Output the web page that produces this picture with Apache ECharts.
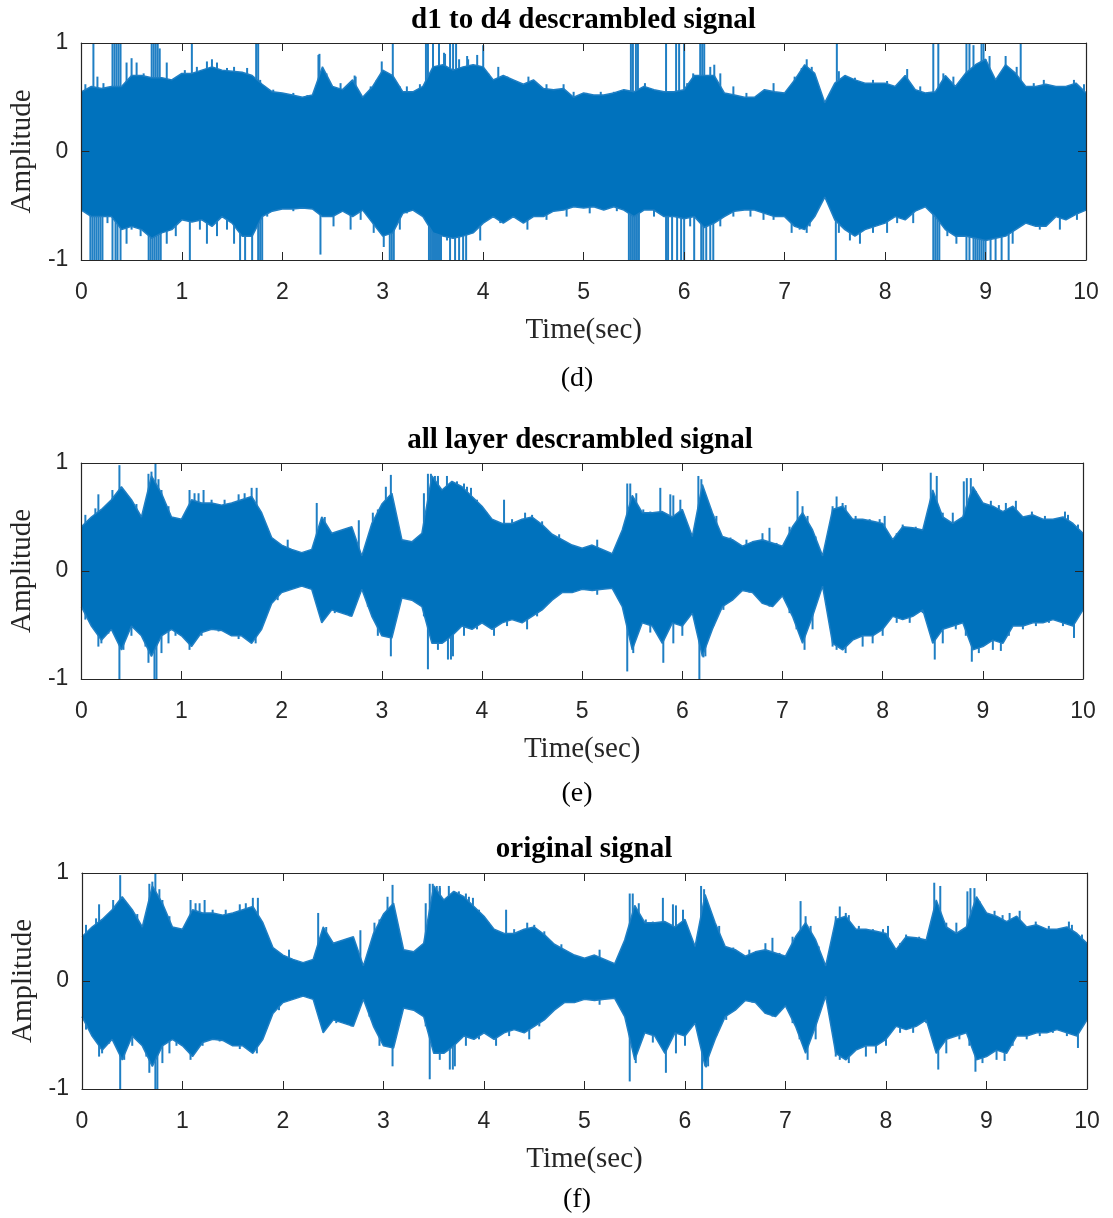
<!DOCTYPE html>
<html>
<head>
<meta charset="utf-8">
<script src="https://cdn.jsdelivr.net/npm/echarts@6/dist/echarts.min.js"></script>
<style>
html, body { margin: 0; padding: 0; background: #fff; }
#chart { width: 1113px; height: 1218px; }
</style>
</head>
<body>
<div id="chart"></div>
<script>
// envelope sample times, 0..10 s every 0.1 s
const time = [];
for (let i = 0; i <= 100; i++) time.push(+(i / 10).toFixed(1));

// (d) d1 to d4 descrambled signal
const dUpper = [0.55,0.60,0.58,0.60,0.60,0.70,0.70,0.68,0.68,0.66,
  0.72,0.72,0.75,0.78,0.75,0.74,0.73,0.70,0.62,0.55,
  0.54,0.52,0.50,0.52,0.78,0.60,0.57,0.66,0.50,0.60,
  0.75,0.70,0.55,0.55,0.60,0.78,0.80,0.75,0.78,0.80,
  0.78,0.66,0.70,0.66,0.62,0.66,0.58,0.57,0.58,0.50,
  0.54,0.52,0.52,0.54,0.57,0.55,0.60,0.57,0.55,0.55,
  0.57,0.70,0.70,0.70,0.54,0.52,0.50,0.50,0.57,0.55,
  0.54,0.66,0.80,0.72,0.45,0.63,0.70,0.66,0.63,0.63,
  0.63,0.60,0.70,0.57,0.54,0.55,0.70,0.60,0.72,0.80,
  0.85,0.66,0.80,0.72,0.60,0.60,0.62,0.60,0.60,0.63,0.54];
const dLower = [-0.54,-0.60,-0.60,-0.60,-0.72,-0.69,-0.72,-0.80,-0.75,-0.72,
  -0.63,-0.65,-0.63,-0.69,-0.60,-0.66,-0.78,-0.78,-0.60,-0.55,
  -0.53,-0.53,-0.52,-0.53,-0.60,-0.60,-0.55,-0.60,-0.54,-0.66,
  -0.78,-0.75,-0.57,-0.54,-0.60,-0.75,-0.78,-0.80,-0.78,-0.75,
  -0.66,-0.60,-0.66,-0.60,-0.66,-0.60,-0.60,-0.55,-0.54,-0.51,
  -0.52,-0.51,-0.54,-0.51,-0.54,-0.60,-0.54,-0.54,-0.60,-0.60,
  -0.62,-0.60,-0.70,-0.66,-0.60,-0.55,-0.54,-0.54,-0.57,-0.60,
  -0.60,-0.69,-0.72,-0.60,-0.42,-0.63,-0.72,-0.78,-0.72,-0.69,
  -0.66,-0.60,-0.63,-0.55,-0.51,-0.60,-0.72,-0.78,-0.78,-0.80,
  -0.82,-0.80,-0.78,-0.72,-0.66,-0.69,-0.69,-0.60,-0.63,-0.58,-0.54];
// clipped spikes and tall peaks
const dSpikes = [
  [0.12,1],[0.31,1],[0.33,1],[0.35,1],[0.37,1],[0.39,1],[0.55,0.82],[0.70,1],[0.72,1],[0.74,1],
  [0.76,1],[0.78,0.95],[1.10,1],[1.30,0.85],[1.74,1],[1.76,1],[2.37,0.9],[2.72,0.7],[3.10,1],
  [3.43,1],[3.45,1],[3.50,1],[3.56,1],[3.62,0.9],[3.67,1],[3.70,1],[3.73,1],[3.85,0.85],[4.00,0.98],
  [4.15,0.78],[5.47,1],[5.49,1],[5.52,1],[5.54,1],[5.82,1],[5.92,1],[5.95,1],[6.00,1],
  [6.16,1],[6.18,1],[6.20,1],[6.30,0.8],[7.22,0.85],[7.52,1],[8.22,0.76],[8.48,1],[8.53,1],
  [8.81,1],[8.84,1],[8.88,0.98],[8.96,1],[8.98,1],[9.00,0.85],[9.20,0.88],[9.35,1],
  [0.09,-1],[0.11,-1],[0.13,-1],[0.15,-1],[0.17,-1],[0.19,-1],[0.21,-1],[0.31,-1],[0.34,-1],
  [0.36,-1],[0.39,-1],[0.67,-1],[0.69,-1],[0.71,-1],[0.73,-1],[0.75,-1],[0.77,-1],[0.79,-1],
  [1.08,-1],[1.58,-1],[1.63,-1],[1.70,-1],[1.76,-1],[1.78,-1],[1.80,-1],[2.38,-0.95],
  [3.07,-1],[3.09,-1],[3.11,-1],[3.46,-1],[3.48,-1],[3.50,-1],[3.52,-1],[3.54,-1],[3.56,-1],
  [3.58,-1],[3.67,-1],[3.72,-1],[3.76,-1],[3.80,-1],[3.83,-1],[5.45,-1],[5.47,-1],[5.49,-1],
  [5.51,-1],[5.53,-1],[5.55,-1],[5.82,-1],[5.84,-1],[5.88,-1],[5.93,-1],[5.97,-1],[6.00,-1],
  [6.10,-1],[6.17,-1],[6.19,-1],[6.22,-1],[6.26,-1],[6.29,-1],[7.22,-0.75],[7.51,-1],
  [8.48,-1],[8.50,-1],[8.52,-1],[8.54,-1],[8.81,-1],[8.84,-1],[8.88,-1],[8.90,-1],[8.92,-1],
  [8.94,-1],[8.96,-1],[8.98,-1],[9.00,-1],[9.05,-1],[9.10,-1],[9.16,-1],[9.23,-1]];
// short hairs along the envelope edge
const dFringe = [
  [0.04,0.62],[0.16,0.69],[0.22,0.63],[0.45,0.82],[0.50,0.86],[0.62,0.72],[0.85,0.82],[0.94,0.66],
  [1.03,0.75],[1.15,0.78],[1.25,0.83],[1.35,0.82],[1.45,0.77],[1.52,0.78],[1.65,0.77],[1.78,0.66],
  [1.91,0.57],[2.11,0.54],[2.25,0.52],[2.36,0.89],[2.44,0.72],[2.58,0.63],[2.73,0.69],[2.88,0.6],
  [2.94,0.66],[2.99,0.83],[3.17,0.6],[3.24,0.6],[3.37,0.62],[3.61,0.91],[3.76,0.85],[3.84,0.88],
  [3.94,0.89],[4.05,0.72],[4.24,0.69],[4.45,0.69],[4.53,0.63],[4.63,0.62],[4.80,0.62],[4.90,0.55],
  [5.03,0.54],[5.17,0.55],[5.30,0.55],[5.61,0.63],[5.73,0.54],[6.03,0.63],[6.09,0.72],[6.26,0.78],
  [6.36,0.72],[6.49,0.6],[6.62,0.54],[6.79,0.51],[6.89,0.63],[7.10,0.69],[7.17,0.77],[7.27,0.78],
  [7.35,0.57],[7.54,0.74],[7.60,0.69],[7.70,0.68],[7.88,0.66],[8.02,0.65],[8.35,0.6],[8.58,0.72],
  [8.68,0.69],[8.74,0.62],[9.04,0.88],[9.11,0.66],[9.31,0.78],[9.48,0.63],[9.58,0.66],[9.74,0.6],
  [9.88,0.66],[9.98,0.62],
  [0.02,-0.55],[0.26,-0.66],[0.45,-0.85],[0.50,-0.72],[0.59,-0.78],[0.85,-0.85],[0.94,-0.78],
  [1.18,-0.72],[1.25,-0.85],[1.35,-0.78],[1.45,-0.72],[1.52,-0.85],[1.85,-0.6],[2.11,-0.55],
  [2.51,-0.69],[2.68,-0.72],[2.78,-0.63],[2.91,-0.75],[3.01,-0.88],[3.17,-0.72],[3.24,-0.57],
  [3.64,-0.82],[3.87,-0.72],[3.97,-0.82],[4.17,-0.66],[4.44,-0.72],[4.63,-0.63],[4.83,-0.6],
  [5.06,-0.57],[5.33,-0.55],[5.70,-0.6],[6.06,-0.69],[6.36,-0.69],[6.49,-0.6],[6.66,-0.6],
  [6.79,-0.63],[6.89,-0.63],[7.07,-0.75],[7.15,-0.72],[7.25,-0.69],[7.54,-0.75],[7.65,-0.82],
  [7.75,-0.85],[7.88,-0.75],[8.02,-0.75],[8.12,-0.66],[8.28,-0.66],[8.62,-0.78],[8.71,-0.85],
  [9.27,-0.85],[9.41,-0.66],[9.54,-0.72],[9.74,-0.72],[9.91,-0.63]];

// (e) all layer descrambled signal
const eUpper = [0.41,0.50,0.57,0.66,0.78,0.66,0.50,0.88,0.72,0.50,
  0.48,0.66,0.63,0.63,0.61,0.63,0.66,0.69,0.54,0.31,
  0.24,0.20,0.17,0.20,0.50,0.35,0.38,0.41,0.14,0.44,
  0.62,0.72,0.29,0.27,0.35,0.88,0.75,0.83,0.78,0.69,
  0.60,0.48,0.44,0.44,0.48,0.50,0.43,0.34,0.29,0.24,
  0.21,0.24,0.20,0.16,0.38,0.70,0.54,0.54,0.55,0.50,
  0.57,0.32,0.80,0.54,0.32,0.29,0.23,0.27,0.29,0.26,
  0.23,0.41,0.54,0.38,0.14,0.57,0.60,0.48,0.48,0.46,
  0.44,0.29,0.41,0.40,0.38,0.75,0.50,0.44,0.50,0.78,
  0.63,0.60,0.55,0.60,0.50,0.52,0.48,0.48,0.50,0.44,0.35];
const eLower = [-0.33,-0.51,-0.64,-0.54,-0.73,-0.51,-0.60,-0.79,-0.60,-0.54,
  -0.60,-0.70,-0.57,-0.54,-0.55,-0.60,-0.60,-0.67,-0.54,-0.30,
  -0.20,-0.17,-0.14,-0.17,-0.48,-0.36,-0.39,-0.42,-0.17,-0.42,
  -0.60,-0.62,-0.25,-0.27,-0.33,-0.67,-0.67,-0.60,-0.51,-0.54,
  -0.48,-0.54,-0.48,-0.45,-0.48,-0.42,-0.36,-0.27,-0.20,-0.20,
  -0.17,-0.18,-0.17,-0.16,-0.33,-0.73,-0.48,-0.51,-0.67,-0.48,
  -0.51,-0.39,-0.79,-0.54,-0.33,-0.27,-0.18,-0.20,-0.30,-0.33,
  -0.23,-0.42,-0.67,-0.42,-0.14,-0.67,-0.73,-0.64,-0.60,-0.60,
  -0.54,-0.42,-0.45,-0.42,-0.36,-0.67,-0.54,-0.51,-0.48,-0.73,
  -0.70,-0.64,-0.67,-0.51,-0.51,-0.48,-0.48,-0.45,-0.48,-0.51,-0.36];
const eSpikes = [
  [0.17,0.71],[0.31,0.75],[0.38,0.98],[0.67,0.9],[0.70,0.92],[0.74,1],[1.08,0.75],[1.22,0.75],
  [1.70,0.77],[1.75,0.77],[2.35,0.63],[3.09,0.89],[3.46,0.9],[3.49,0.9],[3.53,0.88],[3.56,0.88],
  [3.65,0.88],[3.75,0.83],[3.85,0.78],[5.45,0.81],[5.48,0.81],[5.78,0.77],[5.91,0.7],[5.98,0.66],
  [6.16,0.88],[6.19,0.85],[6.24,0.66],[6.87,0.4],[7.15,0.74],[7.54,0.69],[8.48,0.91],[8.54,0.88],
  [8.81,0.83],[8.84,0.86],[8.88,0.86],
  [0.17,-0.7],[0.38,-1],[0.67,-0.85],[0.73,-1],[0.75,-1],[1.08,-0.73],[3.09,-0.79],[3.46,-0.91],
  [3.66,-0.82],[3.71,-0.79],[5.45,-0.93],[5.81,-0.85],[6.17,-1],[6.21,-0.8],[7.22,-0.73],
  [7.54,-0.73],[8.52,-0.82],[8.89,-0.84],[9.18,-0.74],[9.91,-0.62]];
const eFringe = [
  [0.04,0.52],[0.14,0.58],[0.49,0.66],[0.55,0.62],[0.77,0.85],[0.80,0.75],[0.87,0.6],[1.13,0.72],
  [1.17,0.72],[1.30,0.66],[1.43,0.66],[1.57,0.71],[1.63,0.72],[2.06,0.29],[2.43,0.5],[2.77,0.47],
  [2.91,0.54],[2.96,0.57],[3.04,0.78],[3.42,0.72],[3.56,0.86],[3.70,0.83],[3.82,0.81],[3.89,0.77],
  [3.95,0.66],[4.05,0.54],[4.22,0.66],[4.30,0.48],[4.43,0.54],[4.50,0.52],[4.60,0.46],[4.77,0.34],
  [5.15,0.29],[5.54,0.72],[5.61,0.57],[5.68,0.55],[5.88,0.71],[6.08,0.35],[6.34,0.51],[6.48,0.31],
  [6.64,0.29],[6.80,0.35],[6.94,0.26],[7.07,0.41],[7.20,0.6],[7.25,0.51],[7.33,0.32],[7.50,0.6],
  [7.60,0.63],[7.63,0.61],[7.73,0.51],[7.87,0.48],[7.97,0.48],[8.02,0.51],[8.14,0.35],[8.20,0.43],
  [8.33,0.41],[8.60,0.54],[8.70,0.54],[8.93,0.74],[9.00,0.63],[9.08,0.65],[9.16,0.61],[9.23,0.63],
  [9.33,0.65],[9.49,0.55],[9.62,0.51],[9.82,0.55],[9.85,0.52],[9.95,0.43],
  [0.04,-0.45],[0.20,-0.67],[0.27,-0.58],[0.42,-0.73],[0.50,-0.6],[0.64,-0.7],[0.80,-0.76],
  [0.87,-0.67],[0.94,-0.6],[1.20,-0.6],[1.37,-0.56],[1.57,-0.63],[1.74,-0.67],[1.96,-0.27],
  [2.53,-0.39],[2.68,-0.42],[2.86,-0.33],[2.96,-0.6],[3.42,-0.42],[3.56,-0.73],[3.69,-0.82],
  [3.82,-0.6],[3.95,-0.54],[4.12,-0.6],[4.25,-0.51],[4.45,-0.54],[4.55,-0.42],[4.75,-0.23],
  [4.88,-0.2],[5.15,-0.22],[5.51,-0.76],[5.58,-0.48],[5.68,-0.57],[5.91,-0.67],[6.00,-0.6],
  [6.23,-0.79],[6.31,-0.51],[6.41,-0.36],[6.67,-0.2],[6.87,-0.33],[7.07,-0.39],[7.14,-0.54],
  [7.30,-0.54],[7.50,-0.7],[7.63,-0.76],[7.80,-0.7],[7.90,-0.67],[8.00,-0.6],[8.14,-0.48],
  [8.27,-0.48],[8.40,-0.39],[8.60,-0.67],[8.73,-0.54],[8.83,-0.6],[8.96,-0.76],[9.10,-0.73],
  [9.26,-0.6],[9.40,-0.54],[9.53,-0.51],[9.66,-0.48],[9.80,-0.51]];

// (f) original signal
const fUpper = [0.41,0.50,0.57,0.66,0.78,0.66,0.50,0.88,0.72,0.50,
  0.48,0.66,0.63,0.63,0.61,0.63,0.66,0.69,0.54,0.31,
  0.24,0.20,0.17,0.20,0.50,0.35,0.38,0.41,0.14,0.44,
  0.62,0.72,0.29,0.27,0.35,0.88,0.75,0.83,0.78,0.69,
  0.60,0.48,0.44,0.44,0.48,0.50,0.43,0.34,0.29,0.24,
  0.21,0.24,0.20,0.16,0.38,0.70,0.54,0.54,0.55,0.50,
  0.57,0.32,0.80,0.54,0.32,0.29,0.23,0.27,0.29,0.26,
  0.23,0.41,0.54,0.38,0.14,0.57,0.60,0.48,0.48,0.46,
  0.44,0.29,0.41,0.40,0.38,0.75,0.50,0.44,0.50,0.78,
  0.63,0.60,0.55,0.60,0.50,0.52,0.48,0.48,0.50,0.44,0.35];
const fLower = [-0.33,-0.51,-0.64,-0.54,-0.73,-0.51,-0.60,-0.79,-0.60,-0.54,
  -0.60,-0.70,-0.57,-0.54,-0.55,-0.60,-0.60,-0.67,-0.54,-0.30,
  -0.20,-0.17,-0.14,-0.17,-0.48,-0.36,-0.39,-0.42,-0.17,-0.42,
  -0.60,-0.62,-0.25,-0.27,-0.33,-0.67,-0.67,-0.60,-0.51,-0.54,
  -0.48,-0.54,-0.48,-0.45,-0.48,-0.42,-0.36,-0.27,-0.20,-0.20,
  -0.17,-0.18,-0.17,-0.16,-0.33,-0.73,-0.48,-0.51,-0.67,-0.48,
  -0.51,-0.39,-0.79,-0.54,-0.33,-0.27,-0.18,-0.20,-0.30,-0.33,
  -0.23,-0.42,-0.67,-0.42,-0.14,-0.67,-0.73,-0.64,-0.60,-0.60,
  -0.54,-0.42,-0.45,-0.42,-0.36,-0.67,-0.54,-0.51,-0.48,-0.73,
  -0.70,-0.64,-0.67,-0.51,-0.51,-0.48,-0.48,-0.45,-0.48,-0.51,-0.36];
const fSpikes = [
  [0.17,0.71],[0.31,0.75],[0.38,0.98],[0.67,0.9],[0.70,0.92],[0.73,1],[1.08,0.75],[1.22,0.75],
  [1.70,0.77],[1.75,0.77],[2.35,0.63],[3.09,0.89],[3.46,0.9],[3.49,0.9],[3.53,0.88],[3.56,0.88],
  [3.65,0.88],[3.75,0.83],[3.85,0.78],[5.45,0.81],[5.48,0.81],[5.78,0.77],[5.91,0.7],[5.98,0.66],
  [6.16,0.88],[6.19,0.85],[6.24,0.66],[6.87,0.4],[7.15,0.74],[7.54,0.69],[8.48,0.91],[8.54,0.88],
  [8.81,0.83],[8.84,0.86],[8.88,0.86],
  [0.17,-0.7],[0.38,-1],[0.67,-0.85],[0.73,-1],[0.75,-1],[1.08,-0.73],[3.09,-0.79],[3.46,-0.91],
  [3.66,-0.82],[3.71,-0.79],[5.45,-0.93],[5.81,-0.85],[6.17,-1],[6.21,-0.8],[7.22,-0.73],
  [7.54,-0.73],[8.52,-0.82],[8.89,-0.84],[9.18,-0.74],[9.91,-0.62]];
// f looks the same as e along the edges
const fFringe = eFringe;

const titles = ['d1 to d4 descrambled signal', 'all layer descrambled signal', 'original signal'];
const captions = ['(d)', '(e)', '(f)'];
const xName = 'Time(sec)';
const yName = 'Amplitude';

const blue = '#0072BD';
const hair = '#1f7fc4';
const ink = '#262626';
const sans = 'Liberation Sans';
const serif = 'Liberation Serif';

// plot boxes, px
const boxes = [
  { left: 81, top: 43, width: 1005, height: 217 },
  { left: 78, top: 463, width: 1005, height: 216 },
  { left: 82, top: 873, width: 1005, height: 216 }
];
const panelData = [
  { upper: dUpper, lower: dLower, spikes: dSpikes, fringe: dFringe },
  { upper: eUpper, lower: eLower, spikes: eSpikes, fringe: eFringe },
  { upper: fUpper, lower: fLower, spikes: fSpikes, fringe: fFringe }
];

let grid = [], xAxis = [], yAxis = [], series = [], graphic = [];

boxes.forEach((b, i) => {
  grid.push(Object.assign({ containLabel: false }, b));
  let tick = { show: true, inside: true, length: 8, lineStyle: { color: ink, width: 1 } };
  let line = { show: true, onZero: false, lineStyle: { color: ink, width: 1.2 } };
  xAxis.push({
    gridIndex: i, type: 'value', min: 0, max: 10, interval: 1, z: 5,
    axisLine: line, axisTick: tick, splitLine: { show: false },
    axisLabel: { fontFamily: sans, fontSize: 23, color: ink, margin: 21 },
    name: xName, nameLocation: 'middle', nameGap: 56,
    nameTextStyle: { fontFamily: serif, fontSize: 29, color: ink }
  });
  xAxis.push({
    gridIndex: i, type: 'value', min: 0, max: 10, interval: 1, position: 'top', z: 5,
    axisLine: line, axisTick: tick, axisLabel: { show: false }, splitLine: { show: false }
  });
  yAxis.push({
    gridIndex: i, type: 'value', min: -1, max: 1, interval: 1, z: 5,
    axisLine: line, axisTick: tick, splitLine: { show: false },
    axisLabel: { fontFamily: sans, fontSize: 23, color: ink, margin: 13 },
    name: yName, nameLocation: 'middle', nameGap: 44, nameRotate: 90,
    nameTextStyle: { fontFamily: serif, fontSize: 29, color: ink }
  });
  yAxis.push({
    gridIndex: i, type: 'value', min: -1, max: 1, interval: 1, position: 'right', z: 5,
    axisLine: line, axisTick: tick, axisLabel: { show: false }, splitLine: { show: false }
  });

  let p = panelData[i];
  // upper half filled down past zero, lower half filled up past zero, so no seam at 0
  [[p.upper, -0.05], [p.lower, 0.05]].forEach(([arr, org]) => {
    series.push({
      type: 'line', xAxisIndex: 2 * i, yAxisIndex: 2 * i,
      data: time.map((t, k) => [t, arr[k]]),
      showSymbol: false, silent: true,
      lineStyle: { color: hair, width: 1.5 },
      areaStyle: { color: blue, opacity: 1, origin: org },
      z: 2
    });
  });
  series.push({
    type: 'bar', xAxisIndex: 2 * i, yAxisIndex: 2 * i,
    data: p.spikes.concat(p.fringe), barWidth: 2, silent: true,
    itemStyle: { color: hair },
    z: 1
  });
});

// titles and panel captions
const titlePos = [[583.5, 21], [580, 441], [584, 850]];
const capPos = [[577, 379], [577, 794], [577, 1200]];
titles.forEach((t, i) => {
  graphic.push({
    type: 'text', x: titlePos[i][0], y: titlePos[i][1],
    style: { text: t, font: 'bold 29px "Liberation Serif"', fill: '#000',
      align: 'center', verticalAlign: 'middle' }
  });
  graphic.push({
    type: 'text', x: capPos[i][0], y: capPos[i][1],
    style: { text: captions[i], font: '28px "Liberation Serif"', fill: '#000',
      align: 'center', verticalAlign: 'middle' }
  });
});

let myChart = echarts.init(document.getElementById('chart'));
myChart.setOption({
  backgroundColor: '#fff',
  animation: false,
  grid: grid,
  xAxis: xAxis,
  yAxis: yAxis,
  series: series,
  graphic: graphic
});
</script>
</body>
</html>
